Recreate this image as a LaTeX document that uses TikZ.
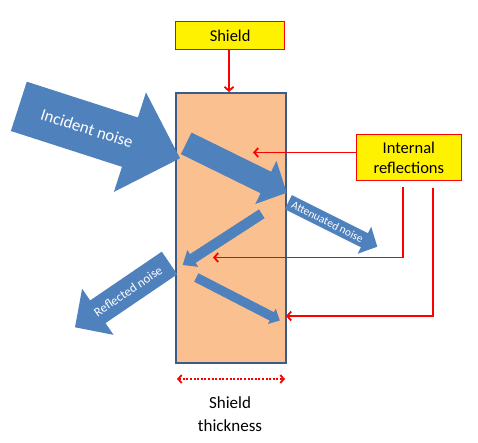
\documentclass[tikz,border=0pt]{standalone}
\usepackage{fontspec}
\setmainfont{Carlito}
\usetikzlibrary{calc,arrows.meta}
\definecolor{arrowblue}{HTML}{4F81BD}
\definecolor{peach}{HTML}{FAC090}
\definecolor{rectblue}{HTML}{385D8A}
\newcommand\blockarrow[5]{%
  \coordinate (H) at ($(#2)!#5!(#1)$);
  \fill[arrowblue] ($(#1)!#3!90:(#2)$) -- ($(H)!#3!90:(#2)$) -- ($(H)!#4!90:(#2)$)
    -- (#2) -- ($(H)!#4!-90:(#2)$) -- ($(H)!#3!-90:(#2)$) -- ($(#1)!#3!-90:(#2)$) -- cycle;
}
\tikzset{
  labelbox/.style={draw=red, line width=1.2pt, fill=yellow, inner sep=0pt, align=center,
    font=\fontsize{16.5}{20}\selectfont},
  redline/.style={draw=red, line width=1.8pt},
  redarrow/.style={redline, -{Straight Barb[length=4pt,width=9pt]}},
  intext/.style={text=white, inner sep=0pt},
}
\begin{document}
\begin{tikzpicture}[x=1pt,y=-1pt]
\useasboundingbox (0,0) rectangle (478,443);
% shield
\node[draw=rectblue, line width=1.6pt, fill=peach, minimum width=110pt, minimum height=270pt, inner sep=0pt, anchor=north west] (shield) at (175,92) {};
% blue arrows
\coordinate (incT) at (18.85,106.35); \coordinate (incP) at (180,158.3);
\blockarrow{incT}{incP}{25.9pt}{52.3pt}{52.6pt}
\coordinate (in1T) at (186.2,143.35); \coordinate (in1P) at (286.7,192.7);
\blockarrow{in1T}{in1P}{12pt}{24pt}{23.2pt}
\coordinate (attT) at (288.35,202.15); \coordinate (attP) at (377.3,246.7);
\blockarrow{attT}{attP}{7.9pt}{15.1pt}{14.4pt}
\coordinate (in2T) at (261.8,213.8); \coordinate (in2P) at (182.7,265);
\blockarrow{in2T}{in2P}{5.2pt}{10pt}{12pt}
\coordinate (refT) at (169.5,263); \coordinate (refP) at (75,327.3);
\blockarrow{refT}{refP}{13.7pt}{27.9pt}{27.6pt}
\coordinate (in3T) at (196.3,277.5); \coordinate (in3P) at (279.8,320.5);
\blockarrow{in3T}{in3P}{4.7pt}{8.6pt}{9pt}
% arrow texts
\node[intext, rotate=-17.9, font=\fontsize{16.8}{19}\selectfont] (lblinc) at (87,128.3) {Incident noise};
\node[intext, rotate=-26.6, font=\fontsize{11.3}{13}\selectfont] (lblatt) at (327.5,221.8) {Attenuated noise};
\node[intext, rotate=34.2, font=\fontsize{12.8}{14}\selectfont] (lblref) at (128,291.2) {Reflected noise};
% label boxes
\node[labelbox, minimum width=109pt, minimum height=28.3pt, anchor=north west] (sh) at (175,20.7) {Shield};
\node[labelbox, minimum width=105pt, minimum height=46pt, anchor=north west] (ir) at (355.7,134) {Internal\\reflections};
% red connectors
\coordinate (shtop) at (229,92);
\draw[redarrow] (sh.south -| shtop) -- (shtop);
\coordinate (r1) at (253,152.5);
\draw[redarrow] (ir.west |- r1) -- (r1);
\coordinate (s2) at (403,187); \coordinate (r2) at (213,257.5);
\draw[redarrow] (s2) |- (r2);
\coordinate (s3) at (433,188); \coordinate (r3) at (286,316);
\draw[redarrow] (s3) |- (r3);
% thickness
\coordinate (thl) at (177,379); \coordinate (thr) at (285,379);
\draw[redline, dash pattern=on 2pt off 1.6pt, {Straight Barb[length=3.5pt,width=8pt]}-{Straight Barb[length=3.5pt,width=8pt]}] (thl) -- (thr);
\node[align=center, font=\fontsize{17}{23}\selectfont, inner sep=0pt] (thk) at (230,414.5) {Shield\\thickness};
\end{tikzpicture}
\end{document}
